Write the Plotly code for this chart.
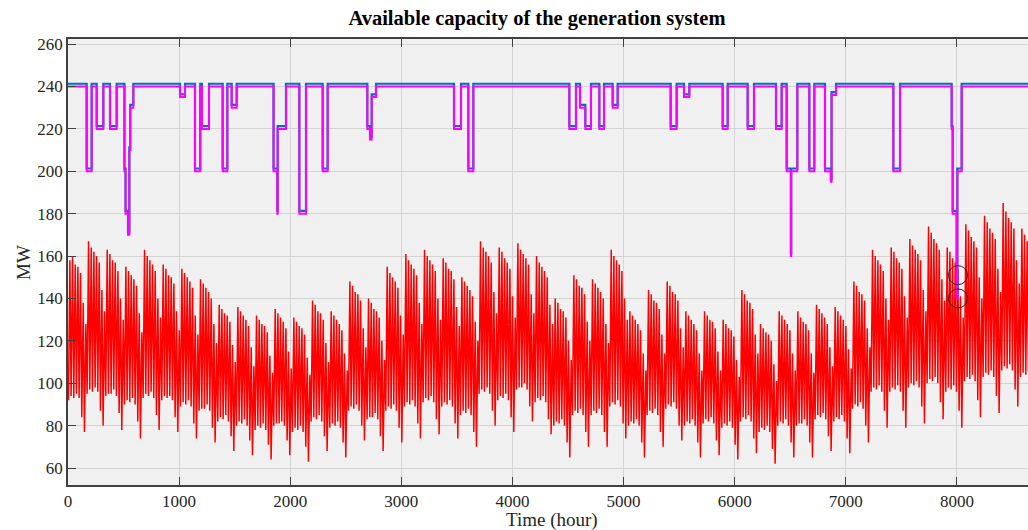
import plotly.graph_objects as go

load_daily_max = [
    158, 160, 156, 155, 152, 138, 128,
    167, 164, 162, 160, 157, 144, 134,
    163, 161, 158, 157, 153, 140, 130,
    155, 153, 151, 149, 146, 133, 124,
    163, 160, 158, 156, 153, 140, 131,
    156, 154, 151, 150, 147, 134, 125,
    154, 152, 150, 148, 145, 132, 123,
    149, 147, 145, 143, 140, 128, 119,
    137, 135, 133, 132, 129, 118, 110,
    136, 134, 132, 130, 127, 117, 108,
    132, 130, 128, 127, 124, 113, 105,
    135, 133, 131, 129, 126, 115, 107,
    131, 129, 127, 126, 123, 112, 104,
    139, 137, 134, 133, 130, 119, 110,
    134, 132, 130, 128, 125, 114, 106,
    148, 146, 143, 142, 139, 126, 117,
    140, 138, 135, 134, 131, 120, 111,
    155, 152, 150, 148, 145, 132, 123,
    161, 158, 156, 154, 151, 138, 128,
    163, 160, 158, 156, 153, 140, 130,
    159, 157, 154, 153, 149, 136, 127,
    150, 148, 146, 144, 141, 129, 120,
    167, 164, 162, 160, 157, 143, 133,
    164, 162, 159, 157, 154, 141, 131,
    166, 163, 161, 159, 156, 142, 133,
    160, 157, 155, 153, 150, 137, 128,
    140, 138, 135, 134, 131, 120, 111,
    151, 149, 146, 145, 142, 129, 120,
    149, 147, 145, 143, 140, 128, 119,
    163, 160, 158, 156, 153, 140, 130,
    134, 132, 130, 128, 125, 114, 106,
    144, 142, 139, 138, 135, 123, 114,
    148, 146, 143, 142, 139, 126, 117,
    134, 132, 130, 128, 125, 114, 106,
    134, 132, 130, 129, 126, 115, 106,
    130, 128, 126, 125, 122, 111, 103,
    144, 142, 139, 138, 135, 123, 114,
    128, 126, 124, 123, 120, 109, 101,
    134, 132, 130, 128, 125, 114, 106,
    134, 131, 129, 128, 125, 114, 105,
    137, 135, 133, 131, 128, 117, 108,
    136, 134, 132, 130, 127, 116, 107,
    148, 146, 143, 142, 139, 126, 117,
    163, 160, 158, 156, 153, 140, 130,
    164, 162, 159, 157, 154, 141, 131,
    168, 165, 163, 161, 158, 144, 134,
    174, 171, 168, 166, 163, 149, 139,
    164, 162, 159, 157, 154, 141, 131,
    175, 172, 169, 167, 164, 150, 140,
    179, 176, 173, 171, 168, 154, 143,
    185, 181, 178, 176, 173, 158, 147,
    173, 170, 167, 165, 162, 148, 138,
    165,
]

load_daily_min = [
    92, 94, 93, 95, 93, 84, 77,
    95, 97, 96, 98, 96, 87, 80,
    94, 95, 95, 97, 94, 86, 78,
    90, 92, 91, 93, 90, 82, 74,
    93, 95, 94, 96, 93, 85, 78,
    92, 94, 93, 94, 92, 84, 77,
    89, 91, 90, 92, 89, 81, 74,
    87, 88, 88, 90, 87, 79, 72,
    82, 84, 83, 85, 82, 75, 68,
    80, 82, 81, 83, 80, 73, 66,
    78, 80, 79, 81, 78, 71, 64,
    80, 81, 81, 82, 80, 73, 66,
    77, 79, 78, 80, 77, 70, 63,
    82, 84, 83, 85, 82, 75, 68,
    79, 81, 80, 82, 79, 72, 65,
    87, 89, 88, 90, 87, 80, 73,
    83, 84, 84, 86, 83, 75, 68,
    87, 89, 88, 90, 87, 79, 72,
    89, 91, 90, 92, 89, 81, 74,
    91, 93, 92, 94, 91, 83, 76,
    89, 91, 90, 92, 89, 81, 74,
    85, 87, 86, 88, 85, 77, 70,
    95, 97, 96, 98, 95, 87, 80,
    92, 94, 93, 95, 92, 84, 77,
    97, 98, 98, 100, 97, 89, 82,
    91, 93, 92, 94, 91, 83, 76,
    80, 82, 81, 83, 80, 72, 65,
    85, 87, 86, 88, 85, 77, 70,
    85, 87, 86, 88, 85, 77, 70,
    89, 91, 90, 92, 89, 81, 74,
    80, 82, 81, 83, 80, 72, 65,
    85, 87, 86, 88, 85, 77, 70,
    88, 90, 89, 91, 88, 80, 73,
    80, 82, 81, 83, 80, 72, 65,
    81, 83, 82, 84, 81, 73, 66,
    79, 81, 80, 82, 79, 71, 64,
    82, 84, 83, 85, 82, 74, 67,
    77, 79, 78, 80, 77, 69, 62,
    80, 82, 81, 83, 80, 72, 65,
    80, 81, 81, 83, 80, 72, 65,
    83, 85, 84, 86, 83, 75, 68,
    82, 84, 83, 85, 82, 74, 67,
    88, 90, 89, 91, 88, 80, 72,
    96, 98, 97, 99, 96, 87, 79,
    96, 98, 97, 99, 96, 87, 79,
    98, 100, 99, 101, 98, 89, 81,
    100, 102, 101, 103, 100, 91, 83,
    96, 98, 97, 99, 96, 87, 79,
    101, 103, 102, 104, 101, 92, 84,
    103, 105, 104, 106, 103, 94, 86,
    106, 108, 107, 109, 106, 97, 89,
    103, 105, 104, 106, 103, 94, 86,
    100,
]

# Available generation capacity: hour at which the level changes, and the new level (MW)
cap_hours = [0, 168, 213, 258, 318, 378, 438, 508, 518, 540, 552, 560, 588,
             1008, 1053, 1143, 1190, 1205, 1269, 1392, 1434, 1473, 1518,
             1850, 1884, 1887, 1962, 2082, 2142, 2292, 2337,
             2694, 2718, 2733, 2772, 3474, 3537, 3603, 3648,
             4512, 4572, 4608, 4656, 4707, 4782, 4824, 4902, 4947,
             5424, 5478, 5544, 5592, 5892, 5937, 6117, 6174, 6372, 6423,
             6468, 6506, 6509, 6564, 6672, 6717, 6813, 6866, 6872, 6912,
             7428, 7488, 7953, 7962, 7998, 8004, 8043, 8760]
cap_mw = [240, 200, 240, 220, 240, 220, 240, 200, 180, 170, 210, 230, 240,
          235, 240, 200, 240, 220, 240, 200, 240, 230, 240,
          200, 180, 220, 240, 180, 240, 200, 240,
          220, 215, 235, 240, 220, 240, 200, 240,
          220, 240, 230, 220, 240, 220, 240, 230, 240,
          220, 240, 235, 240, 220, 240, 220, 240, 220, 240,
          200, 160, 200, 240, 200, 240, 200, 195, 236, 240,
          200, 240, 220, 180, 140, 200, 240, 240]

# Highlighted points
mark_hours = [8010, 8010]
mark_mw = [151, 140]

# hourly positions of the daily low (04h) and daily high (17h)
load_x, load_y = [], []
for d in range(len(load_daily_max)):
    load_x += [24 * d + 4, 24 * d + 17]
    load_y += [load_daily_min[d], load_daily_max[d]]

fig = go.Figure()

fig.add_trace(go.Scatter(
    x=load_x, y=load_y, mode="lines",
    line=dict(color="#ff0000", width=1.5),
    hoverinfo="skip"
))

# blue series sits a hair above the magenta one, drawn on a slightly shifted twin axis
fig.add_trace(go.Scatter(
    x=cap_hours, y=cap_mw, mode="lines", yaxis="y2",
    line=dict(color="#0072bd", width=2.2, shape="hv"),
    hoverinfo="skip"
))
fig.add_trace(go.Scatter(
    x=cap_hours, y=cap_mw, mode="lines", yaxis="y3",
    line=dict(color="#ff00ff", width=2, shape="hv"),
    hoverinfo="skip"
))
fig.add_trace(go.Scatter(
    x=mark_hours, y=mark_mw, mode="markers", yaxis="y3",
    marker=dict(symbol="circle-open", size=19, color="#222222", line=dict(width=1)),
    hoverinfo="skip"
))

axis_font = dict(family="Liberation Serif, Times New Roman, serif", size=17, color="#262626")
label_font = dict(family="Liberation Serif, Times New Roman, serif", size=19, color="#262626")
y_range = [52, 262.4]

fig.update_layout(
    width=1028,
    height=530,
    margin=dict(l=68, r=0, t=39, b=45),
    paper_bgcolor="white",
    plot_bgcolor="#f0f0f0",
    showlegend=False,
    title=dict(
        text="<b>Available capacity of the generation system</b>",
        font=dict(family="Liberation Serif, Times New Roman, serif", size=20.5, color="#000000"),
        x=0.4885, xref="paper", xanchor="center",
        y=0.966, yref="container", yanchor="middle"
    ),
    xaxis=dict(
        range=[0, 8640],
        tickvals=[0, 1000, 2000, 3000, 4000, 5000, 6000, 7000, 8000],
        showgrid=True, gridcolor="#d4d4d4", gridwidth=1,
        zeroline=False,
        showline=True, linecolor="#404040", linewidth=1.5, mirror="ticks",
        ticks="inside", ticklen=8, tickcolor="#404040",
        tickfont=axis_font,
    ),
    yaxis=dict(
        range=y_range,
        tickvals=[60, 80, 100, 120, 140, 160, 180, 200, 220, 240, 260],
        showgrid=True, gridcolor="#d4d4d4", gridwidth=1,
        zeroline=False,
        showline=True, linecolor="#404040", linewidth=1.5,
        ticks="inside", ticklen=8, tickcolor="#404040",
        tickfont=axis_font,
    ),
    yaxis2=dict(range=[y_range[0] - 1.3, y_range[1] - 1.3], overlaying="y", visible=False),
    yaxis3=dict(range=y_range, overlaying="y", visible=False),
    annotations=[
        dict(text="MW", xref="paper", yref="paper", x=-0.047, y=0.5,
             xanchor="center", yanchor="middle", textangle=-90, showarrow=False,
             font=label_font),
        dict(text="Time (hour)", xref="paper", yref="paper", x=0.504, y=-0.079,
             xanchor="center", yanchor="middle", showarrow=False,
             font=label_font),
    ],
)

fig.write_html("out.html", config={"displayModeBar": False},
               post_script="document.body.style.margin='0px';")
